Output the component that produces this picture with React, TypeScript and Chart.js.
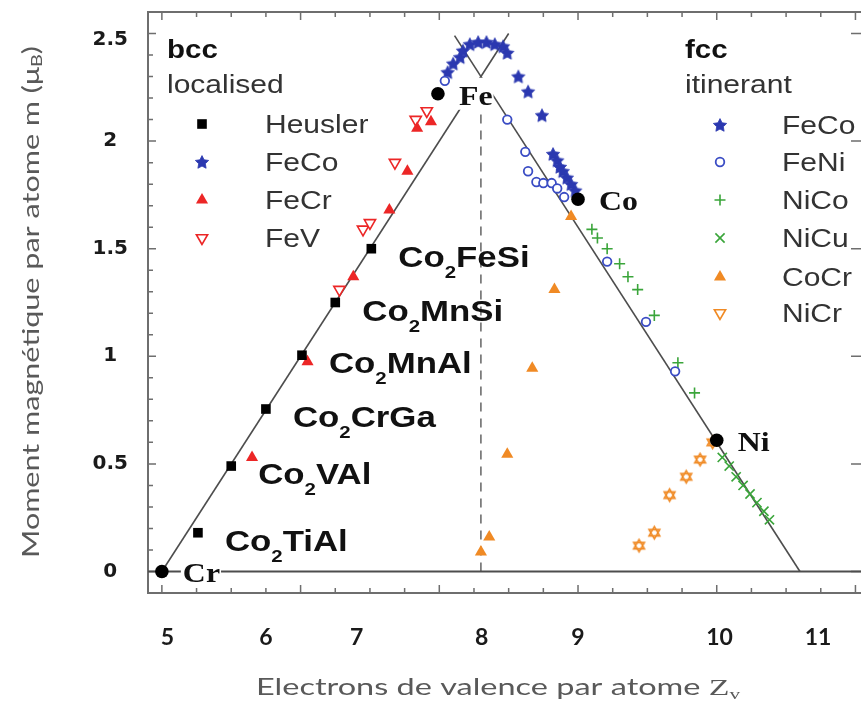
import React, { useEffect, useRef } from "react";
import { Chart, registerables, PointElement } from "chart.js";

Chart.register(...registerables);

// ---------- axis ranges & tick labels ----------
const X_MIN = 5.9;
const X_MAX = 11.04;
const Y_MIN = -0.1;
const Y_MAX = 2.6;

const xTickValues = [6.04, 6.75, 7.405, 8.305, 9.0, 10.02, 10.73];
const xTickLabels = ["5", "6", "7", "8", "9", "10", "11"];
const yTickValues = [0, 0.5, 1, 1.5, 2, 2.47];
const yTickLabels = ["0", "0.5", "1", "1.5", "2", "2.5"];

// ---------- data ----------
const elementNames = ["Cr", "Fe", "Co", "Ni"];
const elementZ = [6.0, 7.99, 9.0, 10.0];
const elementM = [0.0, 2.22, 1.73, 0.61];

const heuslerNames = ["Co2TiAl", "Co2VAl", "Co2CrGa", "Co2MnAl", "Co2MnSi", "Co2FeSi"];
const heuslerZ = [6.26, 6.5, 6.75, 7.01, 7.25, 7.51];
const heuslerM = [0.18, 0.49, 0.755, 1.005, 1.25, 1.5];

const feCoZ = [8.06, 8.1, 8.15, 8.17, 8.22, 8.28, 8.34, 8.4, 8.46, 8.49, 8.57, 8.64, 8.74, 8.82, 8.85, 8.87, 8.89, 8.92, 8.95, 8.98];
const feCoM = [2.32, 2.36, 2.39, 2.42, 2.45, 2.46, 2.46, 2.45, 2.44, 2.41, 2.3, 2.23, 2.12, 1.94, 1.91, 1.88, 1.86, 1.83, 1.8, 1.77];

const feNiZ = [8.04, 8.49, 8.62, 8.64, 8.7, 8.75, 8.81, 8.85, 8.9, 9.21, 9.49, 9.7];
const feNiM = [2.28, 2.1, 1.95, 1.86, 1.81, 1.805, 1.805, 1.78, 1.74, 1.44, 1.16, 0.93];

const niCoZ = [9.1, 9.14, 9.21, 9.3, 9.36, 9.43, 9.55, 9.72, 9.84];
const niCoM = [1.59, 1.55, 1.5, 1.43, 1.37, 1.31, 1.19, 0.97, 0.83];

const niCuZ = [10.04, 10.09, 10.14, 10.19, 10.24, 10.29, 10.34, 10.38];
const niCuM = [0.53, 0.49, 0.44, 0.4, 0.36, 0.32, 0.28, 0.24];

const feCrZ = [6.65, 7.05, 7.38, 7.64, 7.77, 7.84, 7.94];
const feCrM = [0.53, 0.975, 1.37, 1.68, 1.86, 2.06, 2.09];

const feVZ = [7.28, 7.45, 7.5, 7.68, 7.83, 7.91];
const feVM = [1.31, 1.59, 1.62, 1.9, 2.1, 2.14];

const coCrZ = [8.95, 8.83, 8.67, 8.49, 8.36, 8.3];
const coCrM = [1.65, 1.31, 0.945, 0.545, 0.16, 0.09];

const niCrZ = [9.44, 9.55, 9.66, 9.78, 9.88, 9.97];
const niCrM = [0.12, 0.18, 0.355, 0.44, 0.52, 0.6];

// guide lines
const localisedLineZ = [6.0, 8.5];
const localisedLineM = [0.0, 2.5];
const itinerantLineZ = [8.11, 10.6];
const itinerantLineM = [2.49, 0.0];
const dashedLineZ = [8.3, 8.3];
const dashedLineM = [0.0, 2.3];
const zeroLineZ = [X_MIN, X_MAX];
const zeroLineM = [0, 0];

const bccLegend = ["Heusler", "FeCo", "FeCr", "FeV"];
const fccLegend = ["FeCo", "FeNi", "NiCo", "NiCu", "CoCr", "NiCr"];

// ---------- styles ----------
const BLUE = "#2b38b0";
const BLUE2 = "#3a4cc4";
const GREEN = "#3aa53a";
const RED = "#ec2626";
const ORANGE = "#f08a24";
const LINE = "#4d4d4d";
const FRAME = "#6e6e6e";

function makeStar(color: string, R: number): HTMLCanvasElement {
  const s = Math.ceil(R * 2 + 4);
  const c = document.createElement("canvas");
  c.width = s;
  c.height = s;
  const g = c.getContext("2d")!;
  g.fillStyle = color;
  g.strokeStyle = color;
  g.lineWidth = 0.8;
  g.beginPath();
  for (let i = 0; i < 10; i++) {
    const r = i % 2 === 0 ? R : R * 0.5;
    const a = -Math.PI / 2 + (i * Math.PI) / 5;
    const px = s / 2 + r * Math.cos(a);
    const py = s / 2 + 0.6 + r * Math.sin(a);
    if (i === 0) g.moveTo(px, py);
    else g.lineTo(px, py);
  }
  g.closePath();
  g.fill();
  g.stroke();
  return c;
}

function makeHex(color: string, R: number, lw: number): HTMLCanvasElement {
  const s = Math.ceil(R * 2 + 4);
  const c = document.createElement("canvas");
  c.width = s;
  c.height = s;
  const g = c.getContext("2d")!;
  g.strokeStyle = color;
  g.lineWidth = lw;
  [-90, 90].forEach((start) => {
    g.beginPath();
    for (let i = 0; i < 3; i++) {
      const a = ((start + i * 120) * Math.PI) / 180;
      const px = s / 2 + R * Math.cos(a);
      const py = s / 2 + R * Math.sin(a);
      if (i === 0) g.moveTo(px, py);
      else g.lineTo(px, py);
    }
    g.closePath();
    g.stroke();
  });
  return c;
}

type Sty = { pointStyle: any; radius: number; rotation?: number; bg: string; border: string; bw: number };
type Part = { t: string; font: string; dy?: number; adv?: number };

function drawParts(
  ctx: CanvasRenderingContext2D,
  parts: Part[],
  x: number,
  y: number,
  color: string,
  opts: { sx?: number; width?: number; align?: "left" | "center"; rotate?: number } = {}
) {
  ctx.save();
  let total = 0;
  const ws = parts.map((p) => {
    ctx.font = p.font;
    const w = ctx.measureText(p.t).width * (p.adv ?? 1);
    total += w;
    return w;
  });
  let sx = opts.sx ?? 1;
  if (opts.width) sx = opts.width / total;
  ctx.translate(x, y);
  if (opts.rotate) ctx.rotate(opts.rotate);
  ctx.scale(sx, 1);
  let cx = opts.align === "center" ? -total / 2 : 0;
  ctx.fillStyle = color;
  ctx.textBaseline = "alphabetic";
  ctx.textAlign = "left";
  parts.forEach((p, i) => {
    ctx.font = p.font;
    ctx.fillText(p.t, cx, p.dy ?? 0);
    cx += ws[i];
  });
  ctx.restore();
  return { width: total * sx };
}

const pts = (xs: number[], ys: number[]) => xs.map((x, i) => ({ x, y: ys[i] }));

export default function App() {
  const ref = useRef<HTMLCanvasElement>(null);

  useEffect(() => {
    if (!ref.current) return;
    const star = makeStar(BLUE, 7);
    const hex = makeHex(ORANGE, 6.2, 1.6);

    const styles: Record<string, Sty> = {
      Element: { pointStyle: "circle", radius: 6.8, bg: "#000", border: "#000", bw: 0 },
      Heusler: { pointStyle: "rect", radius: 6.8, bg: "#000", border: "#000", bw: 0 },
      FeCo: { pointStyle: star, radius: 6, bg: BLUE, border: BLUE, bw: 0 },
      FeNi: { pointStyle: "circle", radius: 4.3, bg: "#fff", border: BLUE2, bw: 1.8 },
      NiCo: { pointStyle: "cross", radius: 5.5, bg: GREEN, border: GREEN, bw: 1.6 },
      NiCu: { pointStyle: "crossRot", radius: 6.5, bg: GREEN, border: GREEN, bw: 1.6 },
      FeCr: { pointStyle: "triangle", radius: 7, bg: RED, border: RED, bw: 0 },
      FeV: { pointStyle: "triangle", rotation: 180, radius: 6.5, bg: "#fff", border: RED, bw: 1.6 },
      CoCr: { pointStyle: "triangle", radius: 7, bg: ORANGE, border: ORANGE, bw: 0 },
      NiCr: { pointStyle: hex, radius: 6, bg: "#fff", border: ORANGE, bw: 1.6 },
    };
    const legendStyles: Record<string, Sty> = {
      ...styles,
      NiCr: { pointStyle: "triangle", rotation: 180, radius: 6.5, bg: "#fff", border: ORANGE, bw: 1.6 },
    };

    const series = [
      { name: "Element", xs: elementZ, ys: elementM, order: 1 },
      { name: "Heusler", xs: heuslerZ, ys: heuslerM, order: 2 },
      { name: "FeCo", xs: feCoZ, ys: feCoM, order: 5 },
      { name: "FeNi", xs: feNiZ, ys: feNiM, order: 4 },
      { name: "NiCo", xs: niCoZ, ys: niCoM, order: 6 },
      { name: "NiCu", xs: niCuZ, ys: niCuM, order: 6 },
      { name: "FeCr", xs: feCrZ, ys: feCrM, order: 3 },
      { name: "FeV", xs: feVZ, ys: feVM, order: 3 },
      { name: "CoCr", xs: coCrZ, ys: coCrM, order: 7 },
      { name: "NiCr", xs: niCrZ, ys: niCrM, order: 7 },
    ];

    const pointDatasets = series.map((s) => {
      const st = styles[s.name];
      return {
        label: s.name,
        data: pts(s.xs, s.ys),
        showLine: false,
        order: s.order,
        pointStyle: st.pointStyle,
        pointRadius: st.radius,
        pointRotation: st.rotation ?? 0,
        pointBackgroundColor: st.bg,
        pointBorderColor: st.border,
        pointBorderWidth: st.bw,
        backgroundColor: st.bg,
        borderColor: st.border,
        pointHoverRadius: st.radius,
      };
    });

    const lineDs = (label: string, xs: number[], ys: number[], w: number, dash: number[] = []) => ({
      label,
      data: pts(xs, ys),
      showLine: true,
      borderColor: LINE,
      borderWidth: w,
      borderDash: dash,
      pointRadius: 0,
      pointHoverRadius: 0,
      fill: false,
      order: 100,
    });

    const lineDatasets = [
      lineDs("zero", zeroLineZ, zeroLineM, 2),
      lineDs("localised", localisedLineZ, localisedLineM, 1.6),
      lineDs("itinerant", itinerantLineZ, itinerantLineM, 1.6),
      lineDs("dashed", dashedLineZ, dashedLineM, 1.3, [9, 7]),
    ];

    const frameTicks = {
      id: "frameTicks",
      beforeDatasetsDraw(chart: any) {
        const { ctx, chartArea: a, scales } = chart;
        const x = scales.x;
        const y = scales.y;
        ctx.save();
        ctx.strokeStyle = FRAME;
        ctx.lineWidth = 1.5;
        ctx.beginPath();
        for (let i = 0; i <= 20; i++) {
          const v = 6 + i * 0.25;
          const px = x.getPixelForValue(v);
          const len = i % 4 === 0 ? 8 : 5;
          ctx.moveTo(px, a.bottom);
          ctx.lineTo(px, a.bottom - len);
          ctx.moveTo(px, a.top);
          ctx.lineTo(px, a.top + len);
        }
        for (let i = 0; i <= 25; i++) {
          const v = i * 0.1;
          const py = y.getPixelForValue(v);
          const len = i % 5 === 0 ? 8 : 5;
          ctx.moveTo(a.left, py);
          ctx.lineTo(a.left + len, py);
          if (i % 5 === 0) {
            ctx.moveTo(a.right, py);
            ctx.lineTo(a.right - 10, py);
          }
        }
        ctx.stroke();
        ctx.lineWidth = 2;
        ctx.beginPath();
        ctx.moveTo(a.right + 5, a.top);
        ctx.lineTo(a.left, a.top);
        ctx.lineTo(a.left, a.bottom);
        ctx.lineTo(a.right + 5, a.bottom);
        ctx.stroke();
        ctx.restore();
      },
    };

    const overlay = {
      id: "overlay",
      afterDatasetsDraw(chart: any) {
        const { ctx, chartArea, scales } = chart;
        const x = scales.x;
        const y = scales.y;

        // element labels with white background
        const elFont = "bold 27px 'Liberation Serif'";
        elementNames.forEach((name, i) => {
          const px = x.getPixelForValue(elementZ[i]) + 21;
          const py = y.getPixelForValue(elementM[i]) + 2;
          ctx.save();
          ctx.font = elFont;
          const w = ctx.measureText(name).width * 1.18;
          ctx.fillStyle = "#fff";
          ctx.fillRect(px - 2, py - 18, w + 3, 32);
          ctx.restore();
          drawParts(ctx, [{ t: name, font: elFont }], px, py + 9, "#111", { sx: 1.18 });
        });

        // Heusler labels
        const hFont = "bold 29px 'Liberation Sans'";
        const hSub = "bold 17px 'Liberation Sans'";
        heuslerNames.forEach((name, i) => {
          const px = x.getPixelForValue(heuslerZ[i]) + 27;
          const py = y.getPixelForValue(heuslerM[i]) + 7.5;
          drawParts(
            ctx,
            [
              { t: name.slice(0, 2), font: hFont },
              { t: name.slice(2, 3), font: hSub, dy: 11, adv: 1.0 },
              { t: name.slice(3), font: hFont },
            ],
            px,
            py + 10.5,
            "#111",
            { sx: 1.2 }
          );
        });

        // legends
        const legFont = "25px 'Liberation Sans'";
        const legBold = "bold 25px 'Liberation Sans'";
        const drawLegend = (
          header: string,
          sub: string,
          names: string[],
          left: number,
          markerX: number,
          textX: number,
          rows: number[]
        ) => {
          drawParts(ctx, [{ t: header, font: legBold }], left, 58, "#111", { sx: 1.18 });
          drawParts(ctx, [{ t: sub, font: legFont }], left, 93, "#333", { sx: 1.2 });
          names.forEach((n, i) => {
            const st = legendStyles[n];
            const pe: any = new (PointElement as any)({
              x: markerX,
              y: rows[i],
              options: {
                pointStyle: st.pointStyle,
                radius: st.radius,
                rotation: st.rotation ?? 0,
                backgroundColor: st.bg,
                borderColor: st.border,
                borderWidth: st.bw,
              },
            });
            pe.draw(ctx, chartArea);
            drawParts(ctx, [{ t: n, font: legFont }], textX, rows[i] + 9, "#333", { sx: 1.2 });
          });
        };
        drawLegend("bcc", "localised", bccLegend, 167, 202, 265, [124, 162, 200, 238]);
        drawLegend("fcc", "itinerant", fccLegend, 685, 720, 782, [125, 162, 200, 238, 277, 313]);

        // axis titles
        const tFont = "23px 'Lato'";
        drawParts(
          ctx,
          [
            { t: "Moment magnétique par atome m (μ", font: tFont },
            { t: "B", font: "15px 'Lato'", dy: 3 },
            { t: ")", font: tFont },
          ],
          39,
          302,
          "#595959",
          { width: 512, align: "center", rotate: -Math.PI / 2 }
        );
        drawParts(
          ctx,
          [
            { t: "Electrons de valence par atome ", font: tFont },
            { t: "Z", font: "24px 'Liberation Serif'" },
            { t: "v", font: "15px 'Liberation Serif'", dy: 4 },
          ],
          498,
          695,
          "#595959",
          { width: 484, align: "center" }
        );
      },
    };

    const chart = new Chart(ref.current, {
      type: "scatter",
      data: { datasets: [...pointDatasets, ...lineDatasets] as any },
      options: {
        animation: false,
        responsive: false,
        maintainAspectRatio: false,
        devicePixelRatio: 1,
        layout: { padding: { top: 12, left: 0, right: 0, bottom: 0 }, autoPadding: false },
        plugins: { legend: { display: false }, tooltip: { enabled: false }, title: { display: false } },
        events: [],
        scales: {
          x: {
            type: "linear",
            min: X_MIN,
            max: X_MAX,
            grid: { display: false, drawTicks: false },
            border: { display: false },
            afterBuildTicks: (s: any) => {
              s.ticks = xTickValues.map((v) => ({ value: v }));
            },
            afterFit: (s: any) => {
              s.height = 109;
              s.paddingLeft = 0;
              s.paddingRight = 0;
            },
            ticks: {
              autoSkip: false,
              maxRotation: 0,
              minRotation: 0,
              padding: 31,
              color: "#1a1a1a",
              font: { family: "Lato", weight: "bold", size: 23 },
              callback: (_v: any, i: number) => xTickLabels[i],
            },
          },
          y: {
            type: "linear",
            min: Y_MIN,
            max: Y_MAX,
            grid: { display: false, drawTicks: false },
            border: { display: false },
            afterBuildTicks: (s: any) => {
              s.ticks = yTickValues.map((v) => ({ value: v }));
            },
            afterFit: (s: any) => {
              s.width = 148;
              s.paddingTop = 0;
              s.paddingBottom = 0;
            },
            ticks: {
              autoSkip: false,
              crossAlign: "center",
              padding: 20,
              color: "#1a1a1a",
              font: { family: "DejaVu Sans", weight: "bold", size: 20 },
              callback: (_v: any, i: number) => yTickLabels[i],
            },
          },
        },
      } as any,
      plugins: [frameTicks, overlay],
    });

    return () => chart.destroy();
  }, []);

  return (
    <div style={{ position: "fixed", left: 0, top: 0, width: 861, height: 702, background: "#fff" }}>
      <canvas ref={ref} width={861} height={702} style={{ display: "block", width: 861, height: 702 }} />
    </div>
  );
}
